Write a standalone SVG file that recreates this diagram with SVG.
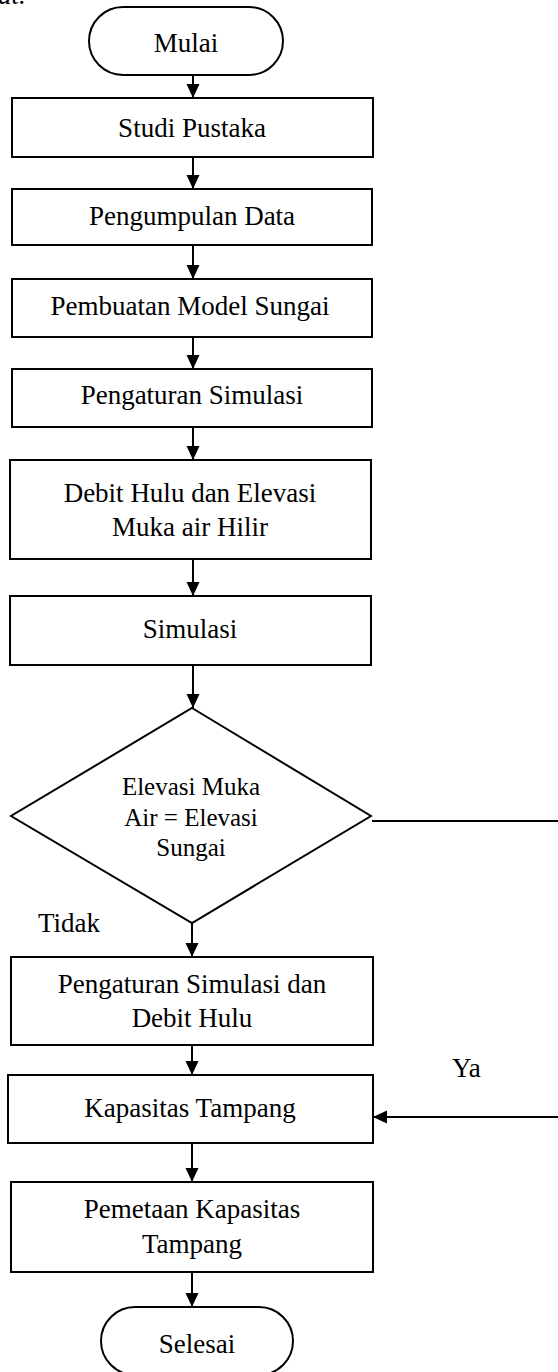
<svg xmlns="http://www.w3.org/2000/svg" width="558" height="1372" viewBox="0 0 558 1372">
<style>
  .n { fill: #fff; stroke: #000; stroke-width: 2; }
  .t { font-family: "Liberation Serif", "Times New Roman", serif; font-size: 27px; fill: #000; text-anchor: middle; }
  .d { font-size: 25px; }
  .l { text-anchor: start; }
  .c { fill: none; stroke: #000; stroke-width: 2; }
</style>
<defs>
  <marker id="ah" viewBox="0 0 14 14" markerWidth="14" markerHeight="14" markerUnits="userSpaceOnUse" refX="14" refY="7" orient="auto">
    <path d="M0,0.5 L14,7 L0,13.5 z" fill="#000"/>
  </marker>
</defs>
<rect width="558" height="1372" fill="#fff"/>
<text class="t l" x="-2" y="4" font-style="italic">at.</text>

<g id="connectors">
  <path class="c" d="M193,75 V98" marker-end="url(#ah)"/>
  <path class="c" d="M193,157 V189" marker-end="url(#ah)"/>
  <path class="c" d="M193,245 V279" marker-end="url(#ah)"/>
  <path class="c" d="M193,337 V369" marker-end="url(#ah)"/>
  <path class="c" d="M193,427 V460" marker-end="url(#ah)"/>
  <path class="c" d="M193,559 V596" marker-end="url(#ah)"/>
  <path class="c" d="M193,665 V708" marker-end="url(#ah)"/>
  <path class="c" d="M192,923 V957" marker-end="url(#ah)"/>
  <path class="c" d="M192,1045 V1075" marker-end="url(#ah)"/>
  <path class="c" d="M192,1143 V1182" marker-end="url(#ah)"/>
  <path class="c" d="M192,1272 V1307" marker-end="url(#ah)"/>
  <path class="c" d="M372,821 H566 V1117 H373" marker-end="url(#ah)"/>
  <text class="t l" x="38" y="932">Tidak</text>
  <text class="t l" x="452" y="1077">Ya</text>
</g>

<g id="mulai">
  <rect class="n" x="89" y="7" width="194" height="68" rx="34"/>
  <text class="t" x="186" y="52">Mulai</text>
</g>
<g id="studi-pustaka">
  <rect class="n" x="12" y="98" width="361" height="59"/>
  <text class="t" x="192" y="137">Studi Pustaka</text>
</g>
<g id="pengumpulan-data">
  <rect class="n" x="12" y="189" width="360" height="56"/>
  <text class="t" x="192" y="225">Pengumpulan Data</text>
</g>
<g id="pembuatan-model">
  <rect class="n" x="12" y="279" width="360" height="58"/>
  <text class="t" x="190" y="315">Pembuatan Model Sungai</text>
</g>
<g id="pengaturan-simulasi">
  <rect class="n" x="12" y="369" width="360" height="58"/>
  <text class="t" x="192" y="404">Pengaturan Simulasi</text>
</g>
<g id="debit-hulu">
  <rect class="n" x="10" y="460" width="361" height="99"/>
  <text class="t" x="190" y="502">Debit Hulu dan Elevasi</text>
  <text class="t" x="190" y="536">Muka air Hilir</text>
</g>
<g id="simulasi">
  <rect class="n" x="10" y="596" width="361" height="69"/>
  <text class="t" x="190" y="638">Simulasi</text>
</g>
<g id="keputusan">
  <polygon class="n" points="192,708 371,816 192,923 11,816"/>
  <text class="t d" x="191" y="795">Elevasi Muka</text>
  <text class="t d" x="191" y="826">Air = Elevasi</text>
  <text class="t d" x="191" y="856">Sungai</text>
</g>
<g id="pengaturan-debit">
  <rect class="n" x="11" y="957" width="362" height="88"/>
  <text class="t" x="192" y="993">Pengaturan Simulasi dan</text>
  <text class="t" x="192" y="1027">Debit Hulu</text>
</g>
<g id="kapasitas-tampang">
  <rect class="n" x="8" y="1075" width="365" height="68"/>
  <text class="t" x="190" y="1117">Kapasitas Tampang</text>
</g>
<g id="pemetaan">
  <rect class="n" x="11" y="1182" width="362" height="90"/>
  <text class="t" x="192" y="1218">Pemetaan Kapasitas</text>
  <text class="t" x="192" y="1253">Tampang</text>
</g>
<g id="selesai">
  <rect class="n" x="101" y="1307" width="192" height="68" rx="34"/>
  <text class="t" x="197" y="1353">Selesai</text>
</g>
</svg>
